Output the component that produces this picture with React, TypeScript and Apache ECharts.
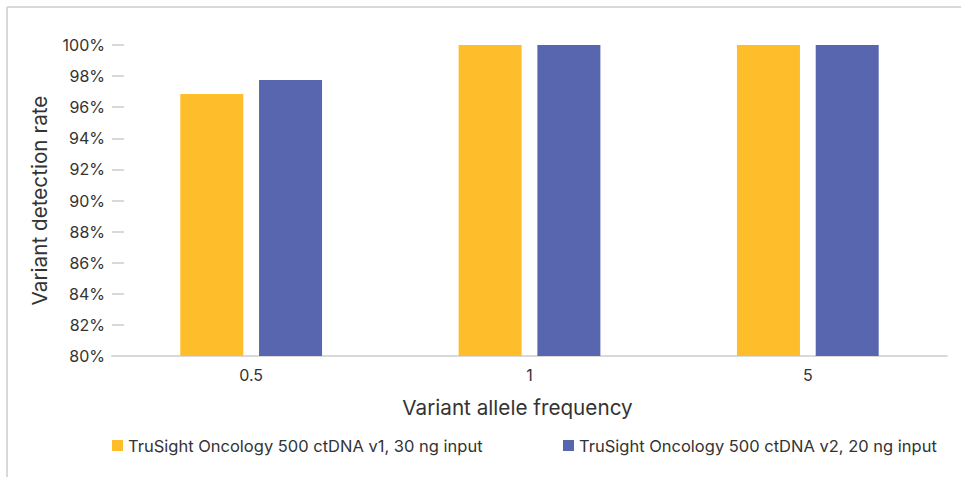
import React, { useEffect, useRef } from "react";
import * as echarts from "echarts";

const categories = ["0.5", "1", "5"];
const seriesNames = [
  "TruSight Oncology 500 ctDNA v1, 30 ng input",
  "TruSight Oncology 500 ctDNA v2, 20 ng input",
];
const v1Values = [96.85, 100, 100];
const v2Values = [97.75, 100, 100];
const colors = ["#FEBD2A", "#5766AF"];

export default function App() {
  const ref = useRef<HTMLDivElement>(null);
  useEffect(() => {
    if (!ref.current) return;
    const chart = echarts.init(ref.current, undefined, { renderer: "svg" });
    const font = "Inter, 'Noto Sans', sans-serif";
    const textColor = "#333333";
    chart.setOption({
      animation: false,
      textStyle: { fontFamily: font, color: textColor },
      grid: { left: 112, right: 14, top: 45, bottom: 121 },
      graphic: [
        { type: "line", shape: { x1: 7, y1: 7, x2: 961, y2: 7 }, style: { stroke: "#d9d9d9", lineWidth: 2 } },
        { type: "line", shape: { x1: 7, y1: 7, x2: 7, y2: 477 }, style: { stroke: "#d9d9d9", lineWidth: 2 } },
      ],
      legend: [
        {
          left: 112, top: 437, padding: 0, itemWidth: 11, itemHeight: 11, itemGap: 5,
          data: [seriesNames[0]], icon: "rect",
          textStyle: { fontFamily: font, fontSize: 16.5, color: textColor },
        },
        {
          left: 563, top: 437, padding: 0, itemWidth: 11, itemHeight: 11, itemGap: 5,
          data: [seriesNames[1]], icon: "rect",
          textStyle: { fontFamily: font, fontSize: 16.5, color: textColor },
        },
      ],
      xAxis: {
        type: "category",
        data: categories,
        name: "Variant allele frequency",
        nameLocation: "middle",
        nameGap: 41,
        nameTextStyle: { fontFamily: font, fontSize: 20.7, color: textColor, padding: [0, 24, 0, 0] },
        axisLine: { lineStyle: { color: "#d9d9d9", width: 2 } },
        axisTick: { show: false },
        axisLabel: { fontFamily: font, fontSize: 16, color: textColor, margin: 11 },
      },
      yAxis: {
        type: "value",
        min: 80,
        max: 100,
        interval: 2,
        name: "Variant detection rate",
        nameLocation: "middle",
        nameGap: 62,
        nameTextStyle: { fontFamily: font, fontSize: 20.7, color: textColor },
        axisLine: { show: false },
        axisTick: { show: true, inside: true, length: 12, lineStyle: { color: "#d9d9d9", width: 2 } },
        splitLine: { show: false },
        axisLabel: { fontFamily: font, fontSize: 16, color: textColor, margin: 7, formatter: (v: number) => `${v}%` },
      },
      series: [
        {
          name: seriesNames[0], type: "bar", data: v1Values, barWidth: 63, barGap: "25%",
          itemStyle: { color: colors[0] },
        },
        {
          name: seriesNames[1], type: "bar", data: v2Values, barWidth: 63, barGap: "25%",
          itemStyle: { color: colors[1] },
        },
      ],
    });
    return () => chart.dispose();
  }, []);
  return (
    <div
      ref={ref}
      style={{ position: "fixed", left: 0, top: 0, width: 961, height: 477, background: "#fff" }}
    />
  );
}
